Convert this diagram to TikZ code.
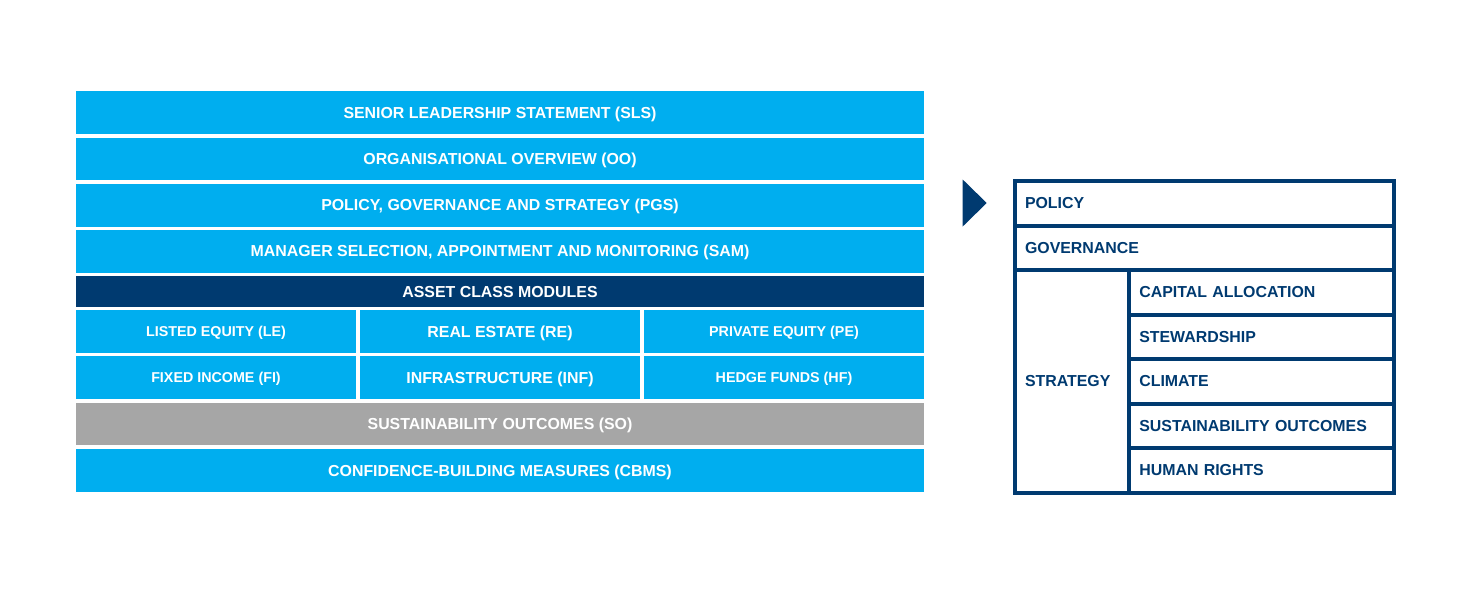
\documentclass[tikz,border=0pt]{standalone}
\usepackage{fontspec}
\setmainfont{Liberation Sans}
\definecolor{lblue}{HTML}{00AEEF}
\definecolor{navy}{HTML}{003A70}
\definecolor{sogray}{HTML}{A6A6A6}
\begin{document}
\begin{tikzpicture}[x=1pt,y=-1pt, every node/.style={outer sep=0pt},
  bigfont/.style={font=\bfseries\fontsize{15.9}{17}\selectfont, text height=11.4pt, text depth=0pt},
  smallfont/.style={font=\bfseries\fontsize{14.3}{15}\selectfont, text height=10.2pt, text depth=0pt},
  bar/.style={fill=lblue, text=white, inner sep=0pt, minimum width=848pt, bigfont},
  cellbox/.style={fill=lblue, text=white, inner sep=0pt, minimum width=280pt, minimum height=43pt},
  tcell/.style={draw=navy, line width=4pt, inner xsep=10pt, inner ysep=0pt, text=navy,
                align=left, anchor=north west, bigfont, minimum height=44.5pt}]
\useasboundingbox (0,0) rectangle (1482,595);
% left stack
\node[bar, minimum height=43pt] (sls) at (500,112.5) {SENIOR LEADERSHIP STATEMENT (SLS)};
\node[bar, minimum height=42.5pt] (oo) at (500,158.75) {ORGANISATIONAL OVERVIEW (OO)};
\node[bar, minimum height=42.5pt] (pgs) at (500,205.25) {POLICY, GOVERNANCE AND STRATEGY (PGS)};
\node[bar, minimum height=42.5pt] (sam) at (500,251.25) {MANAGER SELECTION, APPOINTMENT AND MONITORING (SAM)};
\node[bar, fill=navy, minimum height=31pt] (acm) at (500,291.5) {ASSET CLASS MODULES};
\node[cellbox, smallfont] (le) at (216,331.5) {LISTED EQUITY (LE)};
\node[cellbox, bigfont] (re) at (500,331.5) {REAL ESTATE (RE)};
\node[cellbox, smallfont] (pe) at (784,331.5) {PRIVATE EQUITY (PE)};
\node[cellbox, smallfont] (fi) at (216,377.5) {FIXED INCOME (FI)};
\node[cellbox, bigfont] (inf) at (500,377.5) {INFRASTRUCTURE (INF)};
\node[cellbox, smallfont] (hf) at (784,377.5) {HEDGE FUNDS (HF)};
\node[bar, fill=sogray, minimum height=42pt] (so) at (500,424) {SUSTAINABILITY OUTCOMES (SO)};
\node[bar, minimum height=43pt] (cbms) at (500,470.5) {CONFIDENCE-BUILDING MEASURES (CBMS)};
% arrow
\fill[navy] (962.7,179.5) -- (986.7,203) -- (962.7,226.5) -- cycle;
% right table
\node[tcell, text width=358.5pt] (policy) at (1015,181) {POLICY};
\node[tcell, text width=358.5pt] (gov) at (1015,225.5) {GOVERNANCE};
\node[tcell, text width=94.3pt, minimum height=222.5pt] (strat) at (1015,270) {STRATEGY};
\node[tcell, text width=244.2pt] (cap) at (1129.3,270) {CAPITAL ALLOCATION};
\node[tcell, text width=244.2pt] (stew) at (1129.3,314.5) {STEWARDSHIP};
\node[tcell, text width=244.2pt] (clim) at (1129.3,359) {CLIMATE};
\node[tcell, text width=244.2pt] (sout) at (1129.3,403.5) {SUSTAINABILITY OUTCOMES};
\node[tcell, text width=244.2pt] (hr) at (1129.3,448) {HUMAN RIGHTS};
\end{tikzpicture}
\end{document}
